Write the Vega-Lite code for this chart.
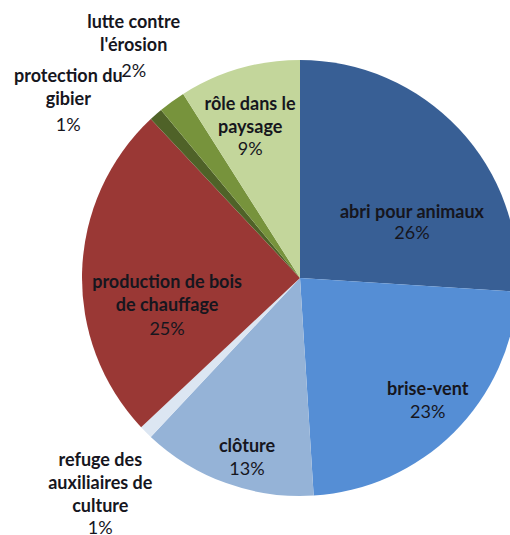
{
  "$schema": "https://vega.github.io/schema/vega-lite/v6.json",
  "width": 420,
  "height": 512,
  "padding": {"left": 90, "top": 22, "right": 0, "bottom": 0},
  "autosize": {"type": "none"},
  "background": "white",
  "view": {"stroke": null},
  "config": {"text": {"font": "Lato", "fontSize": 18, "color": "#16161e", "lineHeight": 23, "lineBreak": "\n", "align": "center", "baseline": "middle"}},
  "data": {"values": [
    {"cat": "abri", "ord": 1, "value": 26, "name": "abri pour animaux", "pct": "26%"},
    {"cat": "brise", "ord": 2, "value": 23, "name": "brise-vent", "pct": "23%"},
    {"cat": "cloture", "ord": 3, "value": 13, "name": "clôture", "pct": "13%"},
    {"cat": "refuge", "ord": 4, "value": 1, "name": "refuge des\nauxiliaires de\nculture", "pct": "1%"},
    {"cat": "bois", "ord": 5, "value": 25, "name": "production de bois\nde chauffage", "pct": "25%"},
    {"cat": "gibier", "ord": 6, "value": 1, "name": "protection du\ngibier", "pct": "1%"},
    {"cat": "erosion", "ord": 7, "value": 2, "name": "lutte contre\nl'érosion", "pct": "2%"},
    {"cat": "paysage", "ord": 8, "value": 9, "name": "rôle dans le\npaysage", "pct": "9%"}
  ]},
  "encoding": {
    "theta": {"field": "value", "type": "quantitative", "stack": true},
    "order": {"field": "ord", "type": "quantitative"}
  },
  "layer": [
    {"mark": {"type": "arc", "outerRadius": 218},
     "encoding": {"color": {"field": "cat", "type": "nominal", "legend": null,
       "scale": {"domain": ["abri", "brise", "cloture", "refuge", "bois", "gibier", "erosion", "paysage"],
                 "range": ["#385f95", "#558ed5", "#95b3d7", "#dce6f2", "#9a3835", "#4f6228", "#77933c", "#c3d69b"]}}}},

    {"mark": {"type": "text", "radius": 120, "dx": 24.5, "dy": 17, "fontWeight": "bold"},
     "encoding": {"text": {"condition": {"test": "datum.cat === 'abri'", "field": "name"}, "value": ""}}},
    {"mark": {"type": "text", "radius": 120, "dx": 24.5, "dy": 38},
     "encoding": {"text": {"condition": {"test": "datum.cat === 'abri'", "field": "pct"}, "value": ""}}},

    {"mark": {"type": "text", "radius": 175, "dx": 4, "dy": -12, "fontWeight": "bold"},
     "encoding": {"text": {"condition": {"test": "datum.cat === 'brise'", "field": "name"}, "value": ""}}},
    {"mark": {"type": "text", "radius": 175, "dx": 4, "dy": 11},
     "encoding": {"text": {"condition": {"test": "datum.cat === 'brise'", "field": "pct"}, "value": ""}}},

    {"mark": {"type": "text", "radius": 186, "dx": 10, "dy": -6, "fontWeight": "bold"},
     "encoding": {"text": {"condition": {"test": "datum.cat === 'cloture'", "field": "name"}, "value": ""}}},
    {"mark": {"type": "text", "radius": 186, "dx": 10, "dy": 17},
     "encoding": {"text": {"condition": {"test": "datum.cat === 'cloture'", "field": "pct"}, "value": ""}}},

    {"mark": {"type": "text", "radius": 240, "dx": -30, "dy": 13, "fontWeight": "bold", "lineHeight": 23},
     "encoding": {"text": {"condition": {"test": "datum.cat === 'refuge'", "field": "name"}, "value": ""}}},
    {"mark": {"type": "text", "radius": 240, "dx": -30, "dy": 81},
     "encoding": {"text": {"condition": {"test": "datum.cat === 'refuge'", "field": "pct"}, "value": ""}}},

    {"mark": {"type": "text", "radius": 132, "dx": -1, "dy": 9, "fontWeight": "bold"},
     "encoding": {"text": {"condition": {"test": "datum.cat === 'bois'", "field": "name"}, "value": ""}}},
    {"mark": {"type": "text", "radius": 132, "dx": -1, "dy": 56},
     "encoding": {"text": {"condition": {"test": "datum.cat === 'bois'", "field": "pct"}, "value": ""}}},

    {"mark": {"type": "text", "radius": 240, "dx": -73, "dy": -21, "fontWeight": "bold"},
     "encoding": {"text": {"condition": {"test": "datum.cat === 'gibier'", "field": "name"}, "value": ""}}},
    {"mark": {"type": "text", "radius": 240, "dx": -73, "dy": 28},
     "encoding": {"text": {"condition": {"test": "datum.cat === 'gibier'", "field": "pct"}, "value": ""}}},

    {"mark": {"type": "text", "radius": 300, "dx": 10, "dy": -12, "fontWeight": "bold"},
     "encoding": {"text": {"condition": {"test": "datum.cat === 'erosion'", "field": "name"}, "value": ""}}},
    {"mark": {"type": "text", "radius": 300, "dx": 10, "dy": 37},
     "encoding": {"text": {"condition": {"test": "datum.cat === 'erosion'", "field": "pct"}, "value": ""}}},

    {"mark": {"type": "text", "radius": 159, "dx": -5.5, "dy": -20, "fontWeight": "bold"},
     "encoding": {"text": {"condition": {"test": "datum.cat === 'paysage'", "field": "name"}, "value": ""}}},
    {"mark": {"type": "text", "radius": 159, "dx": -5.5, "dy": 25},
     "encoding": {"text": {"condition": {"test": "datum.cat === 'paysage'", "field": "pct"}, "value": ""}}}
  ]
}
